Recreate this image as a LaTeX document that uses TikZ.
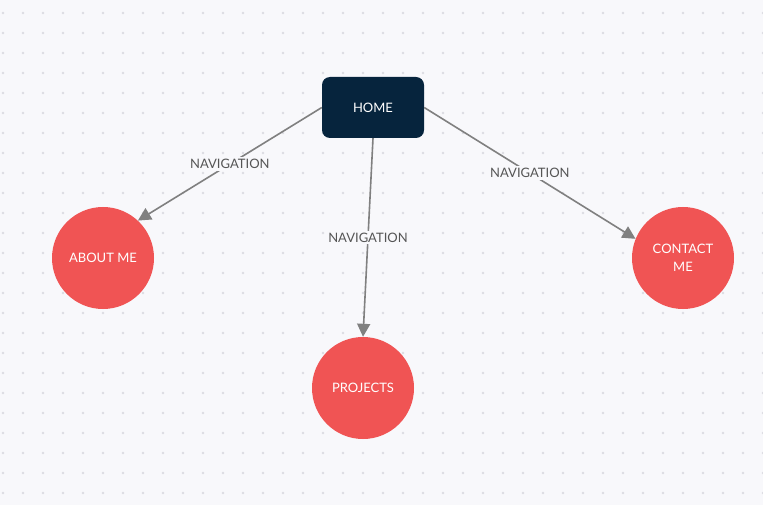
\documentclass[tikz,border=0pt]{standalone}
\usepackage{fontspec}
\setmainfont{Lato}
\usetikzlibrary{arrows.meta}
\definecolor{pagebg}{HTML}{F8F8FB}
\definecolor{griddot}{HTML}{DCDCE2}
\definecolor{navy}{HTML}{06243D}
\definecolor{coral}{HTML}{F05454}
\definecolor{linkgray}{HTML}{808080}
\definecolor{labelgray}{HTML}{555555}
\tikzset{
  homebox/.style={draw=none, fill=navy, rounded corners=8pt, minimum width=102pt,
    minimum height=61pt, text=white, font=\fontsize{13}{15}\selectfont},
  pagecircle/.style={circle, draw=none, fill=coral, minimum size=102pt, inner sep=0pt,
    text=white, font=\fontsize{13}{18}\selectfont, align=center},
  link/.style={draw=linkgray, line width=1.6pt, -{Triangle[length=13pt,width=13pt]}},
  linklabel/.style={fill=pagebg, inner sep=2pt, text=labelgray,
    font=\fontsize{13}{15}\selectfont, midway},
}
\begin{document}
\begin{tikzpicture}[x=1pt,y=-1pt]
  % canvas and dotted grid
  \fill[pagebg] (0,0) rectangle (763,505);
  \useasboundingbox (0,0) rectangle (763,505);
  \foreach \gx in {3,23,...,763} {
    \foreach \gy in {13,33,...,505} {
      \fill[griddot] (\gx,\gy) circle (1.3pt);
    }
  }

  % pages
  \node[homebox] (home) at (373,107.5) {HOME};
  \node[pagecircle] (about) at (103,258) {ABOUT ME};
  \node[pagecircle] (projects) at (363,388) {PROJECTS};
  \node[pagecircle] (contact) at (683,258) {CONTACT\\ME};

  % navigation links
  \draw[link] (home.west) -- (about.47) node[linklabel] {NAVIGATION};
  \draw[link] (home.south) -- (projects.north) node[linklabel] {NAVIGATION};
  \draw[link] (home.east) -- (contact.158) node[linklabel] {NAVIGATION};
\end{tikzpicture}
\end{document}
